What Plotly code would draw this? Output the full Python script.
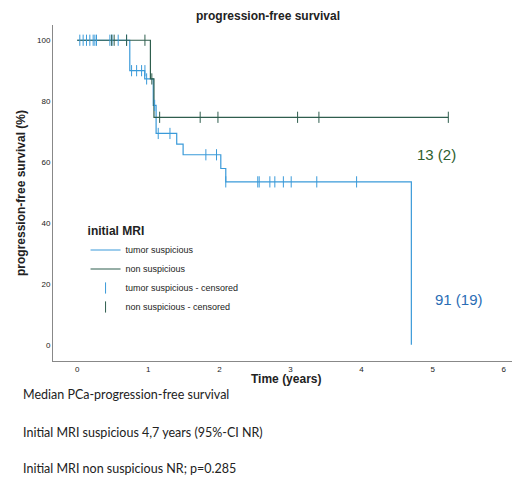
import plotly.graph_objects as go

# step curves (time in years, survival %)
sus_t = [0, 0.74, 0.95, 1.07, 1.11, 1.40, 1.49, 2.02, 2.09, 4.70, 4.70]
sus_s = [100, 90, 87.3, 78.6, 69.4, 65.9, 62.4, 57.9, 53.5, 0, 0]
non_t = [0, 1.03, 1.08, 5.22]
non_s = [100, 87.3, 74.7, 74.7]
# censored marks
sus_ct = [0.037, 0.084, 0.131, 0.178, 0.225, 0.249, 0.272, 0.46, 0.49, 0.577, 0.695,
          0.765, 0.836, 0.906, 0.953, 0.977, 1.09, 1.14, 1.305, 1.81, 1.96,
          2.09, 2.54, 2.56, 2.71, 2.78, 2.90, 3.01, 3.37, 3.93]
sus_cs = [100]*11 + [90]*4 + [87.3, 78.6, 69.4, 69.4, 62.4, 62.4] + [53.5]*9
non_ct = [0.485, 0.52, 0.695, 0.953, 1.05, 1.16, 1.73, 1.98, 3.10, 3.40, 5.22]
non_cs = [100]*4 + [87.3] + [74.7]*6

blue = "#3a9ad9"
green = "#2f5e4e"
fig = go.Figure()
fig.add_trace(go.Scatter(x=sus_t, y=sus_s, mode="lines", line=dict(color=blue, width=1.2, shape="hv"),
                         name="tumor suspicious"))
fig.add_trace(go.Scatter(x=non_t, y=non_s, mode="lines", line=dict(color=green, width=1.2, shape="hv"),
                         name="non suspicious"))
fig.add_trace(go.Scatter(x=sus_ct, y=sus_cs, mode="markers", name="tumor suspicious - censored",
                         marker=dict(symbol="line-ns", size=8, line=dict(color=blue, width=1))))
fig.add_trace(go.Scatter(x=non_ct, y=non_cs, mode="markers", name="non suspicious - censored",
                         marker=dict(symbol="line-ns", size=8, line=dict(color=green, width=1))))

fig.add_annotation(x=4.75, y=62.5, text="13 (2)", showarrow=False, xanchor="left",
                   font=dict(size=15, color="#2e5e2e", family="Liberation Sans"))
fig.add_annotation(x=5.0, y=15, text="91 (19)", showarrow=False, xanchor="left",
                   font=dict(size=15, color="#2a6db5", family="Liberation Sans"))

notes = ["Median PCa-progression-free survival",
         "Initial MRI suspicious 4,7 years (95%-CI NR)",
         "Initial MRI non suspicious NR; p=0.285"]
for txt, yy in zip(notes, [-0.101, -0.214, -0.321]):
    fig.add_annotation(xref="paper", yref="paper", x=-0.068, y=yy, text=txt, showarrow=False,
                       xanchor="left", yanchor="middle", font=dict(size=12.5, color="#222", family="Lato"))

fig.add_annotation(xref="paper", yref="paper", x=0.5, y=-0.055, text="<b>Time (years)</b>",
                   showarrow=False, yanchor="middle", font=dict(size=12))

fig.update_layout(
    width=520, height=495, paper_bgcolor="white", plot_bgcolor="white",
    margin=dict(l=45, r=10, t=17, b=142, autoexpand=False),
    font=dict(family="Liberation Sans", color="#222"),
    title=dict(text="<b>progression-free survival</b>", x=0.5, xanchor="center", y=0.992, yanchor="top",
               font=dict(size=12)),
    legend=dict(title=dict(text="<b>initial MRI</b>", font=dict(size=12), side="top"),
                x=0.07, y=0.42, xanchor="left", yanchor="top", font=dict(size=9),
                bgcolor="rgba(0,0,0,0)", tracegroupgap=0, itemwidth=30),
    xaxis=dict(range=[-0.34, 6.2], tickvals=[0, 1, 2, 3, 4, 5, 6], tickfont=dict(size=8),
               showgrid=False, zeroline=False, showline=True, linecolor="#888", automargin=False),
    yaxis=dict(range=[-5.3, 105], tickvals=[0, 20, 40, 60, 80, 100], tickfont=dict(size=8),
               showgrid=False, zeroline=False, showline=True, linecolor="#888", automargin=False,
               title=dict(text="<b>progression-free survival (%)</b>", font=dict(size=12), standoff=8)),
)
fig.write_html("out.html")
